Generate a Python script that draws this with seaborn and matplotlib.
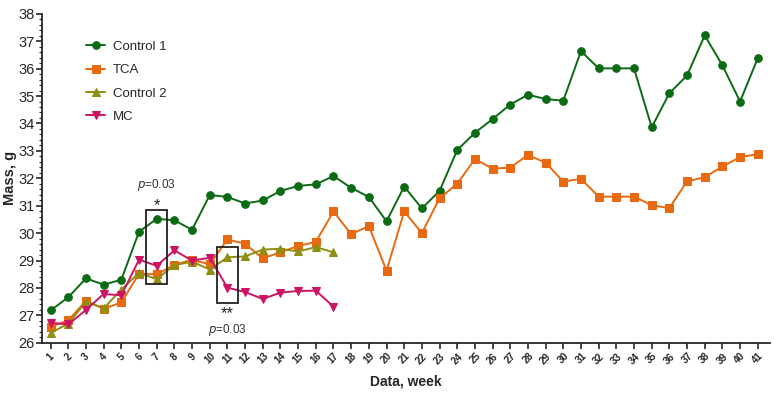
import numpy as np
import pandas as pd
import matplotlib
matplotlib.use('Agg')
import matplotlib.pyplot as plt
from matplotlib.patches import Rectangle
from matplotlib.ticker import MultipleLocator
import seaborn as sns

## ===================================================================== ##

weeks_long = list(range(1, 42))
weeks_short = list(range(1, 18))

control1 = [27.18, 27.66, 28.35, 28.12, 28.30, 30.05, 30.52, 30.47, 30.12, 31.39,
            31.32, 31.08, 31.19, 31.54, 31.72, 31.78, 32.08, 31.65, 31.32, 30.43,
            31.70, 30.90, 31.54, 33.03, 33.66, 34.16, 34.69, 35.05, 34.89, 34.83,
            36.64, 36.01, 36.01, 36.01, 33.86, 35.10, 35.75, 37.21, 36.12, 34.80,
            36.38]
tca = [26.58, 26.82, 27.53, 27.24, 27.47, 28.52, 28.50, 28.84, 29.03, 28.86,
       29.77, 29.61, 29.08, 29.30, 29.53, 29.68, 30.79, 29.96, 30.26, 28.63,
       30.79, 30.00, 31.27, 31.80, 32.70, 32.35, 32.39, 32.85, 32.57, 31.88,
       31.98, 31.33, 31.33, 31.33, 31.02, 30.91, 31.89, 32.04, 32.43, 32.77,
       32.88]
control2 = [26.36, 26.70, 27.50, 27.26, 27.94, 28.55, 28.32, 28.83, 28.96, 28.67,
            29.12, 29.15, 29.40, 29.43, 29.33, 29.49, 29.30]
mc = [26.73, 26.67, 27.20, 27.78, 27.73, 29.03, 28.81, 29.37, 29.00, 29.10,
      28.01, 27.85, 27.60, 27.83, 27.89, 27.90, 27.32]

series = [
    ('Control 1', weeks_long, control1, 'o', '#0b6b14'),
    ('TCA', weeks_long, tca, 's', '#e8690f'),
    ('Control 2', weeks_short, control2, '^', '#8e8e12'),
    ('MC', weeks_short, mc, 'v', '#cc1462'),
]

## ===================================================================== ##

sns.set_style('ticks')
plt.rcParams['font.family'] = ['Liberation Sans', 'DejaVu Sans']

fig, ax = plt.subplots(figsize=(7.74, 3.94), dpi=100)
fig.subplots_adjust(left=0.054, right=0.995, top=0.965, bottom=0.13)

for name, wk, vals, mk, col in series:
    df = pd.DataFrame({'week': wk, 'mass': vals})
    sns.lineplot(data=df, x='week', y='mass', ax=ax, color=col, marker=mk,
                 markersize=5.5, markeredgecolor=col, lw=1.4, label=name)

# significance boxes
ax.add_patch(Rectangle((6.4, 28.13), 1.2, 2.71, fill=False, ec='#222222', lw=1.3, zorder=5))
ax.add_patch(Rectangle((10.4, 27.45), 1.2, 2.04, fill=False, ec='#222222', lw=1.3, zorder=5))
ax.text(7, 31.75, r'$\it{p}$=0.03', ha='center', va='center', fontsize=8.5, color='#333333')
ax.text(7, 31.0, '*', ha='center', va='center', fontsize=12, color='#222222')
ax.text(11, 27.08, '**', ha='center', va='center', fontsize=12, color='#222222')
ax.text(11, 26.46, r'$\it{p}$=0.03', ha='center', va='center', fontsize=8.5, color='#333333')

ax.set_xlim(0.5, 41.7)
ax.set_ylim(26, 38)
ax.set_xticks(weeks_long)
ax.set_xticklabels([str(w) for w in weeks_long], rotation=45, fontsize=7, fontweight='bold')
ax.yaxis.set_major_locator(MultipleLocator(1))
ax.yaxis.set_minor_locator(MultipleLocator(0.2))
ax.tick_params(axis='y', labelsize=10.5, width=1.2, length=4, pad=1)
ax.tick_params(axis='y', which='minor', width=0.8, length=2)
ax.tick_params(axis='x', width=1.2, length=4, pad=2)
ax.set_xlabel('Data, week', fontsize=10, fontweight='bold', labelpad=6)
ax.set_ylabel('Mass, g', fontsize=10.5, fontweight='bold', labelpad=1)

for sp in ['left', 'bottom']:
    ax.spines[sp].set_linewidth(1.3)

ax.legend(loc='upper left', bbox_to_anchor=(0.045, 0.955), frameon=False, fontsize=9.5,
          handlelength=1.4, handletextpad=0.6, labelspacing=0.85)

sns.despine(ax=ax, top=True, right=True)
fig.savefig('out.png', dpi=100)
